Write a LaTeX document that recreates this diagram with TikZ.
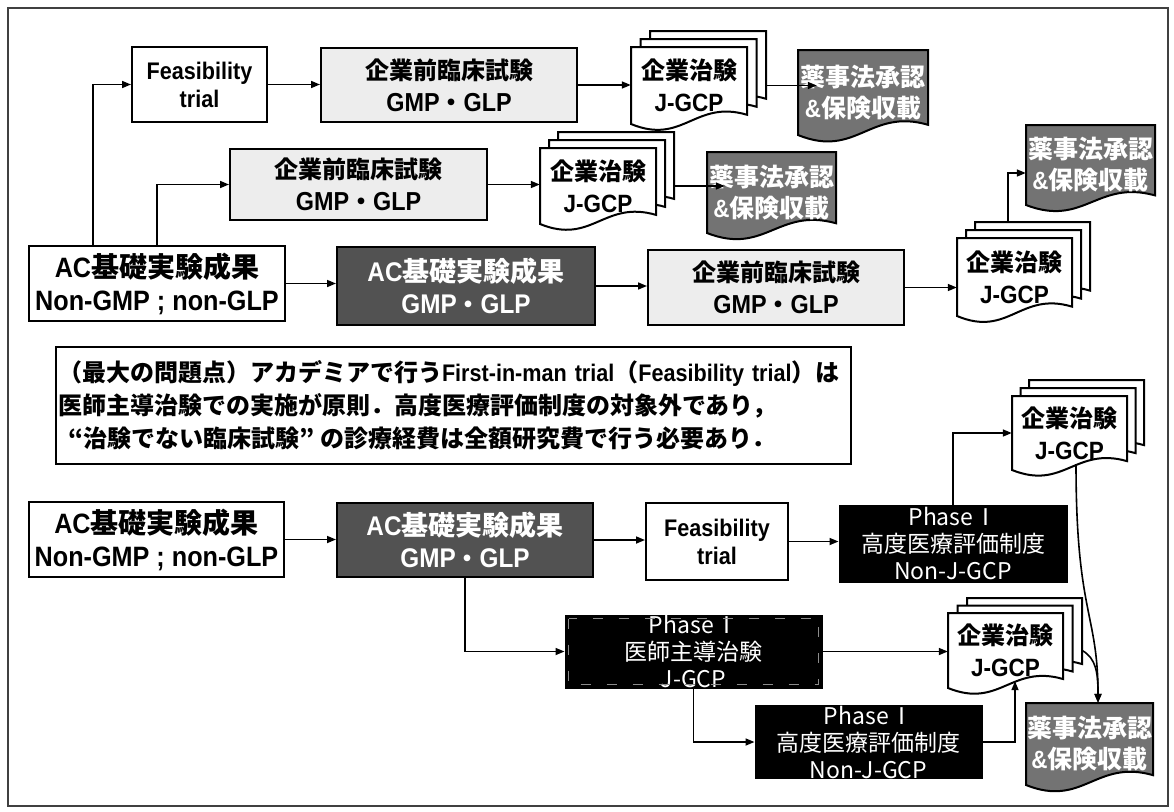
\documentclass[tikz,border=0pt]{standalone}
\usepackage{fontspec}
\setmainfont{Liberation Sans}[FakeStretch=0.9]
\newfontfamily\jp{Noto Sans CJK JP}
\usetikzlibrary{arrows.meta,calc}
\newcommand\fsz[2]{\fontsize{#1}{#2}\selectfont}
\newcommand\docshape[5]{%
  \path[#5] ({#1},{#2}) -- ({#3},{#2}) -- ({#3},{(#4)-0.12*((#4)-(#2))})
   .. controls ({(#1)+0.55*((#3)-(#1))},{(#4)-0.32*((#4)-(#2))}) and ({(#1)+0.45*((#3)-(#1))},{(#4)+0.28*((#4)-(#2))}) .. ({#1},{#4}) -- cycle;}
\newcommand\docstack[7]{%
  \docshape{(#1)+2*(#5)}{(#2)-2*(#6)}{(#3)+2*(#5)}{(#4)-2*(#6)}{#7}%
  \docshape{(#1)+(#5)}{(#2)-(#6)}{(#3)+(#5)}{(#4)-(#6)}{#7}%
  \docshape{#1}{#2}{#3}{#4}{#7}}
\newcommand\gmpglp{GMP{\jp\fsz{24}{32}・}GLP}
\newcommand\phI{Phase\kern0.05em Ⅰ}
\tikzset{
  plainbox/.style={draw, line width=2pt, fill=white, inner sep=0pt, align=center},
  feasbox/.style={plainbox, font=\fsz{24}{28}\bfseries},
  prebox/.style={plainbox, fill=black!7, font=\fsz{26}{32}\bfseries},
  acbox/.style={plainbox, font=\fsz{28}{33}\bfseries},
  gmpbox/.style={plainbox, fill=black!68, text=white, font=\fsz{27}{32}\bfseries},
  phbox/.style={draw=black, line width=1pt, fill=black, text=white, inner sep=0pt, align=center, font=\jp\fsz{23}{27}},
  docn/.style={draw=none, fill=none, inner sep=0pt, align=center},
  trialn/.style={docn, font=\fsz{25}{32}\bfseries},
  apprn/.style={docn, text=white, font=\fsz{25}{31}\bfseries},
  docw/.style={draw, line width=2pt, fill=white},
  docd/.style={draw, line width=2pt, fill=black!55},
  notebox/.style={draw, line width=2pt, fill=white, inner sep=2pt, align=left, font=\fsz{24}{33}\bfseries},
  arr/.style={line width=1.6pt, -{Triangle[length=9pt,width=7pt]}},
}
\begin{document}
\begin{tikzpicture}[x=1pt,y=-1pt]
\useasboundingbox (0,0) rectangle (1174,811);
\draw[line width=1.5pt, black!75] (8,8) rectangle (1168,806);

% document shapes
\docstack{631}{47}{747}{124}{9.5}{8}{docw}
\docshape{798}{50}{928}{135}{docd}
\docstack{540}{148}{656}{224}{9}{8}{docw}
\docshape{707}{152}{836}{233}{docd}
\docstack{957}{238}{1072}{316}{9}{8}{docw}
\docshape{1026}{125}{1155}{205}{docd}
\docstack{1012}{396}{1127}{470}{8.5}{8}{docw}
\docstack{948}{613}{1063}{688}{9.5}{7.5}{docw}
\docshape{1026}{703}{1153}{785}{docd}

% row 1
\node[feasbox, minimum width=135, minimum height=75] (feas1) at (199.5,84.5) {Feasibility\\trial};
\node[prebox, minimum width=256, minimum height=74] (pre1) at (449,85) {{\jp\fsz{24}{32}企業前臨床試験}\\\gmpglp};
\node[trialn, minimum width=116, minimum height=77] (trial1) at (689,85.5) {{\jp\fsz{24}{32}企業治験}\\J-GCP};
\node[apprn, minimum width=130, minimum height=85] (appr1) at (863,92.5) {{\jp 薬事法承認}\\\&{\jp 保険収載}};

% row 2
\node[prebox, minimum width=257, minimum height=71] (pre2) at (358.5,184.5) {{\jp\fsz{24}{32}企業前臨床試験}\\\gmpglp};
\node[trialn, minimum width=116, minimum height=76] (trial2) at (598,186) {{\jp\fsz{24}{32}企業治験}\\J-GCP};
\node[apprn, minimum width=129, minimum height=81] (appr2) at (771.5,192.5) {{\jp 薬事法承認}\\\&{\jp 保険収載}};

% row 3
\node[acbox, minimum width=256, minimum height=75] (ac1) at (157,283.5) {AC{\jp 基礎実験成果}\\Non-GMP ; non-GLP};
\node[gmpbox, minimum width=258, minimum height=78] (gmp1) at (466,286) {AC{\jp 基礎実験成果}\\\gmpglp};
\node[prebox, minimum width=256, minimum height=75] (pre3) at (776,287.5) {{\jp\fsz{24}{32}企業前臨床試験}\\\gmpglp};
\node[trialn, minimum width=115, minimum height=78] (trial3) at (1014.5,277) {{\jp\fsz{24}{32}企業治験}\\J-GCP};
\node[apprn, minimum width=129, minimum height=80] (appr3) at (1090.5,165) {{\jp 薬事法承認}\\\&{\jp 保険収載}};

% note
\node[notebox, minimum width=795, minimum height=117, text width=791] (note) at (453.5,405.5) {%
{\jp （最大の問題点）アカデミアで行う}First-in-man trial{\jp （}Feasibility trial{\jp ）は}\\
{\jp 医師主導治験での実施が原則．高度医療評価制度の対象外であり，}\\
\hspace*{10pt}{\jp “治験でない臨床試験”\kern6pt の診療経費は全額研究費で行う必要あり．}};

% row 4
\node[acbox, minimum width=255, minimum height=75] (ac2) at (156.5,539.5) {AC{\jp 基礎実験成果}\\Non-GMP ; non-GLP};
\node[gmpbox, minimum width=256, minimum height=74] (gmp2) at (465,540) {AC{\jp 基礎実験成果}\\\gmpglp};
\node[feasbox, minimum width=142, minimum height=77] (feas2) at (717,541.5) {Feasibility\\trial};
\node[phbox, minimum width=228, minimum height=77] (ph1a) at (953,543.5) {\phI\\高度医療評価制度\\Non-J-GCP};
\node[trialn, minimum width=115, minimum height=74] (trial4) at (1069.5,433) {{\jp\fsz{24}{32}企業治験}\\J-GCP};

% rows 5-6
\node[phbox, minimum width=257, minimum height=73] (ph1b) at (693.5,651.5) {\phI\\医師主導治験\\J-GCP};
\draw[black!45, dash pattern=on 10pt off 16pt, line width=0.8pt] ([shift={(4,4)}]ph1b.north west) rectangle ([shift={(-4,-4)}]ph1b.south east);
\node[trialn, minimum width=115, minimum height=75] (trial5) at (1005.5,650.5) {{\jp\fsz{24}{32}企業治験}\\J-GCP};
\node[phbox, minimum width=227, minimum height=72] (ph1c) at (868.5,742) {\phI\\高度医療評価制度\\Non-J-GCP};
\node[apprn, minimum width=127, minimum height=82] (appr4) at (1089.5,744) {{\jp 薬事法承認}\\\&{\jp 保険収載}};

% connectors
\draw[arr] ([xshift=-64pt]ac1.north) |- (feas1.west);
\draw[arr] (ac1.north) |- (pre2.west);
\draw[arr] (feas1.east) -- (feas1.east -| pre1.west);
\draw[arr] (pre1.east) -- (pre1.east -| trial1.west);
\draw[arr] ([xshift=19pt]trial1.east) -- ([xshift=19pt]trial1.east -| appr1.west);
\draw[arr] (pre2.east) -- (pre2.east -| trial2.west);
\draw[arr] ([xshift=18pt]trial2.east) -- ([xshift=18pt]trial2.east -| appr2.west);
\draw[arr] (ac1.east) -- (ac1.east -| gmp1.west);
\draw[arr] (gmp1.east) -- (gmp1.east -| pre3.west);
\draw[arr] (pre3.east) -- (pre3.east -| trial3.west);
\draw[arr] ([xshift=-6.5pt,yshift=16pt]trial3.north) |- ([yshift=-8pt]appr3.west);
\draw[arr] (ac2.east) -- (ac2.east -| gmp2.west);
\draw[arr] (gmp2.east) -- (gmp2.east -| feas2.west);
\draw[arr] (feas2.east) -- (feas2.east -| ph1a.west);
\draw[arr] (ph1a.north) |- (trial4.west);
\draw[arr] (gmp2.south) |- (ph1b.west);
\draw[arr] (ph1b.east) -- (ph1b.east -| trial5.west);
\draw[arr] (ph1b.south) |- (ph1c.west);
\draw[arr] (ph1c.east) -| ([xshift=9.5pt,yshift=7pt]trial5.south);
\draw[arr] ([xshift=6.5pt,yshift=6pt]trial4.south) .. controls +(0,150) and +(0,-90) .. ([xshift=8.5pt]appr4.north);
\draw[arr] ([xshift=19pt]trial5.east) .. controls +(14,8) and +(0,-30) .. ([xshift=8.5pt]appr4.north);
\end{tikzpicture}
\end{document}
